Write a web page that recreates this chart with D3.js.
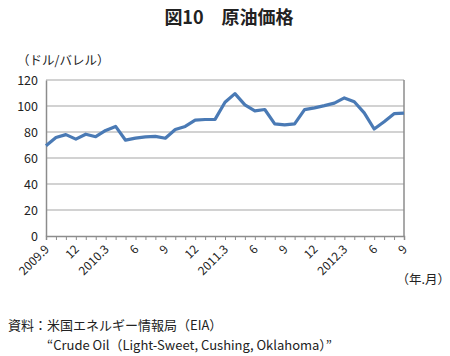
<!DOCTYPE html>
<html><head><meta charset="utf-8">
<script src="https://cdn.jsdelivr.net/npm/d3@7"></script>
<style>
body{margin:0;background:#fff;}
text{font-family:"Noto Sans CJK JP","Noto Sans",sans-serif;}
</style></head>
<body><svg id="c" width="450" height="356"></svg>
<script>
const months = ["2009.9","10","11","12","2010.1","2","2010.3","4","5","6","7","8","9","10","11","12","2011.1","2","2011.3","4","5","6","7","8","9","10","11","12","2012.1","2","2012.3","4","5","6","7","8","9"];
const prices = [69.4,75.7,78.0,74.5,78.3,76.4,81.2,84.3,73.7,75.3,76.3,76.6,75.2,81.9,84.3,89.2,89.6,89.7,102.9,109.5,100.9,96.3,97.3,86.3,85.5,86.3,97.2,98.6,100.3,102.2,106.2,103.3,94.7,82.3,87.9,94.1,94.5];
const labelIdx = [0,3,6,9,12,15,18,21,24,27,30,33,36];
const xLabels = ["2009.9","12","2010.3","6","9","12","2011.3","6","9","12","2012.3","6","9"];
const yTicks = [0,20,40,60,80,100,120];

const svg = d3.select("#c");
const L=46,R=404,T=80,B=236;
const x = d3.scaleLinear().domain([0,months.length-1]).range([L,R]);
const y = d3.scaleLinear().domain([0,120]).range([B,T]);

// title
svg.append("text").attr("x",229).attr("y",24).attr("text-anchor","middle")
  .attr("font-size",18).attr("font-weight","bold").attr("fill","#222").text("図10　原油価格");

// gridlines
svg.append("g").selectAll("line").data(yTicks.filter(d=>d>0)).join("line")
  .attr("x1",L).attr("x2",R).attr("y1",d=>y(d)).attr("y2",d=>y(d))
  .attr("stroke","#a6a6a6").attr("stroke-width",1.2);

// y axis
const ya = svg.append("g").attr("transform",`translate(${L},0)`)
  .call(d3.axisLeft(y).tickValues(yTicks).tickSize(0).tickPadding(8));
ya.select(".domain").attr("stroke","#8c8c8c").attr("stroke-width",1.5);
ya.selectAll("text").attr("font-size",12.5).attr("fill","#222")
  .attr("font-family","Liberation Sans, Arial, sans-serif");

// right border
svg.append("line").attr("x1",R).attr("x2",R).attr("y1",T).attr("y2",B)
  .attr("stroke","#8c8c8c").attr("stroke-width",1.5);

// x axis
const xa = svg.append("g").attr("transform",`translate(0,${B})`)
  .call(d3.axisBottom(x).tickValues(d3.range(months.length)).tickSize(4).tickFormat(""));
xa.select(".domain").attr("stroke","#8c8c8c").attr("stroke-width",1.5);
xa.selectAll(".tick line").attr("stroke","#8c8c8c");

// x labels
svg.append("g").selectAll("text").data(labelIdx).join("text")
  .attr("transform",(d)=>`translate(${x(d)+4},${B+14}) rotate(-45)`)
  .attr("text-anchor","end").attr("font-size",12).attr("fill","#222")
  .attr("font-family","Liberation Sans, Arial, sans-serif")
  .text((d,i)=>xLabels[i]);

// line
svg.append("path").datum(prices)
  .attr("d",d3.line().x((d,i)=>x(i)).y(d=>y(d)))
  .attr("fill","none").attr("stroke","#4a7ab5").attr("stroke-width",3.2)
  .attr("stroke-linejoin","round");

// unit labels
svg.append("text").attr("x",17).attr("y",65).attr("font-size",12.5).attr("fill","#222").text("（ドル/バレル）");
svg.append("text").attr("x",450).attr("y",284).attr("text-anchor","end").attr("font-size",12.5).attr("fill","#222").text("（年.月）");

// source
svg.append("text").attr("x",8).attr("y",330).attr("font-size",13).attr("fill","#222").text("資料：米国エネルギー情報局（EIA）");
svg.append("text").attr("x",47).attr("y",349.5).attr("font-size",13).attr("fill","#222").text("“Crude Oil（Light-Sweet, Cushing, Oklahoma）”");
</script></body></html>
